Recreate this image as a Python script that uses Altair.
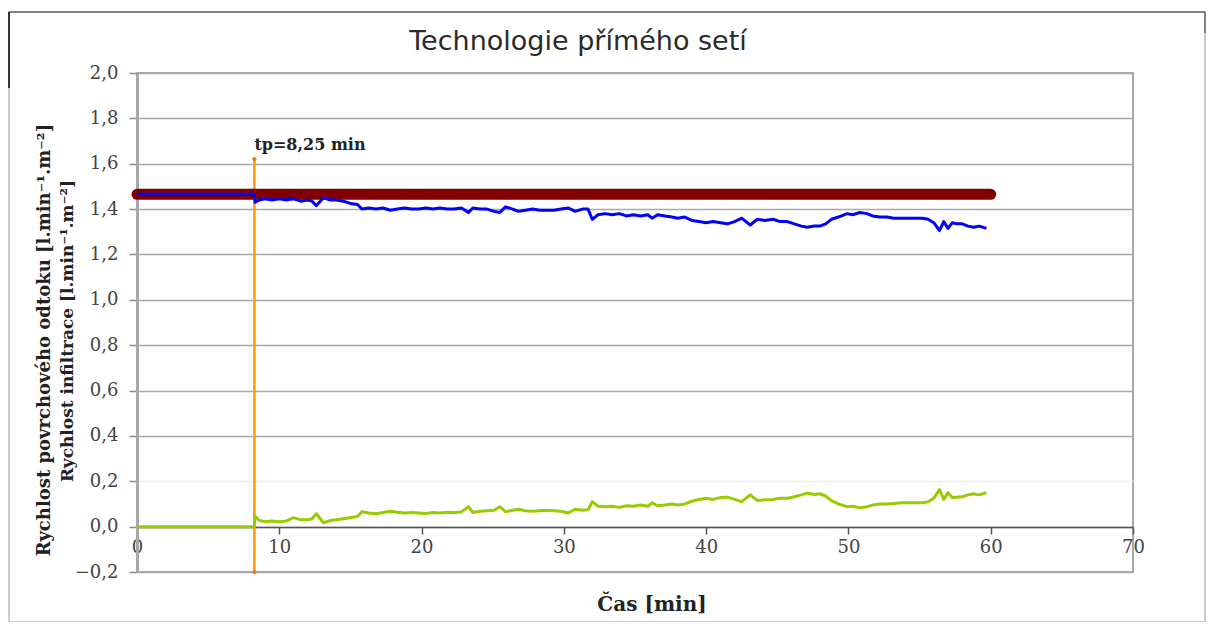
import altair as alt
import pandas as pd

# ---------------- data ----------------
time = [0, 8.25, 8.3, 8.6, 9.0, 9.5, 10.0, 10.5, 11.0, 11.5,
        12.0, 12.3, 12.6, 13.1, 13.6, 14.0, 14.5, 15.0, 15.5, 15.8,
        16.3, 16.8, 17.3, 17.8, 18.3, 18.8, 19.3, 19.8, 20.3, 20.8,
        21.3, 21.8, 22.3, 22.8, 23.3, 23.6, 24.1, 24.6, 25.1, 25.5,
        25.9, 26.4, 26.8, 27.3, 27.8, 28.3, 28.8, 29.3, 29.8, 30.3,
        30.8, 31.3, 31.7, 32.0, 32.4, 32.9, 33.4, 33.9, 34.4, 34.9,
        35.4, 35.9, 36.2, 36.6, 37.1, 37.6, 38.0, 38.5, 39.0, 39.5,
        40.0, 40.5, 41.0, 41.5, 42.0, 42.5, 43.1, 43.6, 44.1, 44.7,
        45.2, 45.7, 46.2, 46.7, 47.1, 47.6, 48.0, 48.4, 48.8, 49.3,
        49.9, 50.3, 50.8, 51.3, 51.7, 52.2, 52.7, 53.2, 53.7, 54.2,
        54.7, 55.2, 55.6, 56.0, 56.4, 56.7, 57.0, 57.3, 57.6, 58.0,
        58.4, 58.8, 59.2, 59.7]

runoff = [1.465, 1.465, 1.43, 1.44, 1.445, 1.44, 1.445, 1.44, 1.445, 1.435,
          1.44, 1.435, 1.415, 1.45, 1.44, 1.44, 1.435, 1.425, 1.42, 1.40,
          1.405, 1.40, 1.405, 1.395, 1.40, 1.405, 1.40, 1.40, 1.405, 1.40,
          1.405, 1.40, 1.40, 1.405, 1.385, 1.405, 1.40, 1.40, 1.39, 1.385,
          1.41, 1.40, 1.39, 1.395, 1.40, 1.395, 1.395, 1.395, 1.40, 1.405,
          1.39, 1.40, 1.40, 1.355, 1.375, 1.38, 1.375, 1.38, 1.37, 1.375,
          1.37, 1.375, 1.36, 1.375, 1.37, 1.365, 1.36, 1.365, 1.35, 1.345,
          1.34, 1.345, 1.34, 1.335, 1.345, 1.36, 1.33, 1.355, 1.35, 1.355,
          1.345, 1.345, 1.335, 1.325, 1.32, 1.325, 1.325, 1.335, 1.355, 1.365,
          1.38, 1.375, 1.385, 1.38, 1.37, 1.365, 1.365, 1.36, 1.36, 1.36,
          1.36, 1.36, 1.355, 1.34, 1.305, 1.345, 1.315, 1.34, 1.335, 1.335,
          1.325, 1.32, 1.325, 1.315]

infiltration = [0, 0, 0.045, 0.027, 0.022, 0.025, 0.022, 0.025, 0.04, 0.03,
                0.03, 0.035, 0.057, 0.017, 0.027, 0.03, 0.035, 0.04, 0.045, 0.066,
                0.06, 0.057, 0.062, 0.068, 0.063, 0.06, 0.062, 0.06, 0.058, 0.062,
                0.06, 0.063, 0.062, 0.065, 0.088, 0.062, 0.068, 0.07, 0.072, 0.088,
                0.066, 0.072, 0.077, 0.07, 0.068, 0.07, 0.072, 0.07, 0.068, 0.06,
                0.077, 0.072, 0.075, 0.11, 0.09, 0.088, 0.09, 0.085, 0.092, 0.09,
                0.095, 0.09, 0.105, 0.092, 0.095, 0.1, 0.095, 0.1, 0.112, 0.12,
                0.125, 0.12, 0.128, 0.13, 0.12, 0.11, 0.14, 0.115, 0.118, 0.12,
                0.125, 0.125, 0.132, 0.14, 0.148, 0.142, 0.145, 0.135, 0.115, 0.1,
                0.088, 0.09, 0.083, 0.088, 0.095, 0.1, 0.1, 0.102, 0.105, 0.105,
                0.105, 0.105, 0.11, 0.125, 0.163, 0.12, 0.15, 0.128, 0.13, 0.132,
                0.14, 0.145, 0.14, 0.15]

rain_time = [0, 60]
rain_rate = [1.465, 1.465]

tp_time = 8.25
tp_range = [-0.2, 1.62]
tp_label = "tp=8,25 min"

title_text = "Technologie přímého setí"
y_title_1 = "Rychlost povrchového odtoku  [l.min⁻¹.m⁻²]"
y_title_2 = "Rychlost infiltrace [l.min⁻¹.m⁻²]"
x_title = "Čas [min]"

x_ticks = [0, 10, 20, 30, 40, 50, 60, 70]
y_ticks = [-0.2, 0.0, 0.2, 0.4, 0.6, 0.8, 1.0, 1.2, 1.4, 1.6, 1.8, 2.0]

# ---------------- chart ----------------
W, H = 996, 499
SERIF = "DejaVu Serif"
SANS = "DejaVu Sans"

df = pd.DataFrame({"t": time, "runoff": runoff, "infil": infiltration})
df_rain = pd.DataFrame({"t": rain_time, "v": rain_rate})
df_tp = pd.DataFrame({"t": [tp_time], "y1": [tp_range[0]], "y2": [tp_range[1]], "label": [tp_label]})
df_tp_pts = pd.DataFrame({"t": [tp_time, tp_time], "y": tp_range})
one = pd.DataFrame({"a": [0]})

xs = alt.Scale(domain=[0, 70], nice=False, zero=False)
ys = alt.Scale(domain=[-0.2, 2.0], nice=False, zero=False)

xaxis = alt.Axis(values=x_ticks, offset=-45, title=None, grid=False,
                 domainColor="#555555", domainWidth=1.5, tickColor="#555555",
                 tickWidth=1.5, tickSize=7, labelFont=SERIF, labelFontSize=18,
                 labelColor="#444444", labelPadding=4, labelFlush=False,
                 labelOverlap=False, format="d")
yaxis = alt.Axis(values=y_ticks, title=None, grid=True,
                 gridColor=alt.condition("datum.value == 0.2", alt.value("#f0f0f0"), alt.value("#a9a9a9")),
                 gridWidth=1.5, domainColor="#a8a8a8", domainWidth=3,
                 tickColor="#888888", tickWidth=1.5, tickSize=8,
                 labelFont=SERIF, labelFontSize=18, labelColor="#444444",
                 labelPadding=11, labelOverlap=False,
                 labelExpr="replace(format(datum.value, '.1f'), '.', ',')")

tp_rule = alt.Chart(df_tp).mark_rule(color="#ff9900", strokeWidth=2.5).encode(
    x=alt.X("t:Q", scale=xs, axis=xaxis),
    y=alt.Y("y1:Q", scale=ys, axis=yaxis),
    y2="y2:Q")
tp_pts = alt.Chart(df_tp_pts).mark_point(filled=True, color="#ff7a00", size=18, opacity=1).encode(
    x=alt.X("t:Q", scale=xs, axis=xaxis), y=alt.Y("y:Q", scale=ys, axis=yaxis))
tp_text = alt.Chart(df_tp).mark_text(font=SERIF, fontWeight="bold", fontSize=16, color="#222222",
                                     align="left", baseline="middle", dx=0, dy=-14).encode(
    x=alt.X("t:Q", scale=xs, axis=xaxis), y=alt.Y("y2:Q", scale=ys, axis=yaxis), text="label:N")

rain = alt.Chart(df_rain).mark_line(color="#800000", strokeWidth=11, strokeCap="round").encode(
    x=alt.X("t:Q", scale=xs, axis=xaxis), y=alt.Y("v:Q", scale=ys, axis=yaxis))
blue = alt.Chart(df).mark_line(color="#0000ff", strokeWidth=3, strokeJoin="round").encode(
    x=alt.X("t:Q", scale=xs, axis=xaxis), y=alt.Y("runoff:Q", scale=ys, axis=yaxis))
green = alt.Chart(df).mark_line(color="#99cc00", strokeWidth=3, strokeJoin="round").encode(
    x=alt.X("t:Q", scale=xs, axis=xaxis), y=alt.Y("infil:Q", scale=ys, axis=yaxis))

title = alt.Chart(one).mark_text(text=title_text, font=SANS, fontSize=27,
                                 color="#2a2a2a", align="center", baseline="middle").encode(
    x=alt.value(441), y=alt.value(-31))
yt1 = alt.Chart(one).mark_text(text=y_title_1, font=SERIF, fontWeight="bold", fontSize=18,
                               color="#222222", angle=270, align="center", baseline="middle").encode(
    x=alt.value(-92), y=alt.value(267))
yt2 = alt.Chart(one).mark_text(text=y_title_2, font=SERIF, fontWeight="bold", fontSize=17,
                               color="#222222", angle=270, align="center", baseline="middle").encode(
    x=alt.value(-69), y=alt.value(258))
xt = alt.Chart(one).mark_text(text=x_title, font=SERIF, fontWeight="bold", fontSize=20,
                              color="#222222", align="center", baseline="middle").encode(
    x=alt.value(515), y=alt.value(532))

frame = alt.Chart(one).mark_rect(fill="transparent", stroke="#bdbdbd", strokeWidth=1.5).encode(
    x=alt.value(-128), x2=alt.value(1068), y=alt.value(-61), y2=alt.value(549))
frame_top = alt.Chart(one).mark_rule(color="#666666", strokeWidth=1.5).encode(
    x=alt.value(-128), x2=alt.value(1068), y=alt.value(-61))
frame_left = alt.Chart(one).mark_rule(color="#333333", strokeWidth=2).encode(
    x=alt.value(-128), y=alt.value(-61), y2=alt.value(15))
frame_right = alt.Chart(one).mark_rule(color="#666666", strokeWidth=1.5).encode(
    x=alt.value(1068), y=alt.value(-61), y2=alt.value(-40))

chart = alt.layer(
    tp_rule, rain, blue, green, tp_pts, tp_text,
    title, yt1, yt2, xt, frame, frame_top, frame_left, frame_right
).properties(
    width=W, height=H,
    padding={"left": 129, "top": 65, "right": 73, "bottom": 50},
    autosize=alt.AutoSizeParams(type="none"),
    background="white",
).configure_view(
    stroke="#8a8a8a", strokeWidth=1.5
).configure_axis(
    labelFont=SERIF, labelFontSize=18, labelColor="#444444"
)

chart.save("out.html", embed_options={"renderer": "svg", "actions": False})
